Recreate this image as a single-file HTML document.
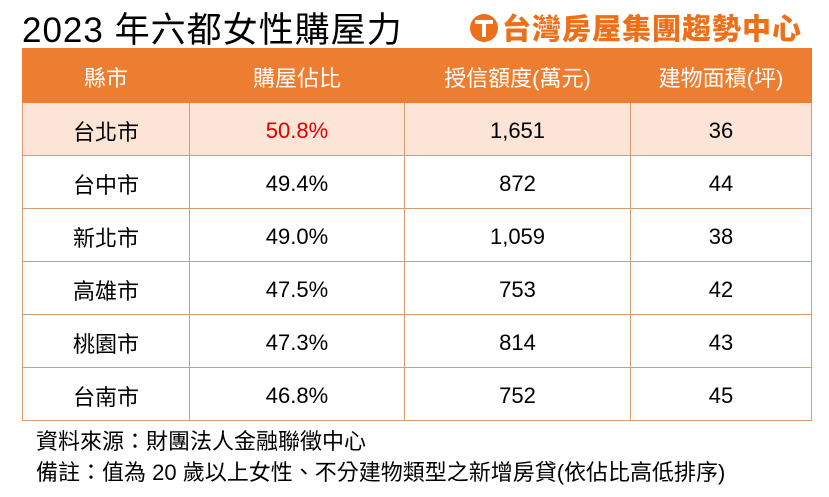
<!DOCTYPE html><html><head><meta charset="utf-8"><style>
body{margin:0;width:829px;height:497px;background:#fff;font-family:"Liberation Sans","Noto Sans CJK TC",sans-serif;position:relative;overflow:hidden}
.t{position:absolute;left:22px;top:2px;font-size:35px;color:#000;letter-spacing:1px}
.logo{position:absolute;left:470px;top:6px;font-size:29px;font-weight:900;color:#EE6F1A;letter-spacing:1px;white-space:nowrap}
.logo .c{display:inline-block;width:28px;height:28px;border-radius:50%;background:#EE6F1A;vertical-align:-3px;margin-right:4px;position:relative}
.logo .c:after{content:"";position:absolute;left:5px;top:6px;width:18px;height:4px;background:#fff}
.logo .c:before{content:"";position:absolute;left:12px;top:6px;width:4px;height:17px;background:#fff}
table{position:absolute;left:22px;top:48px;border-collapse:collapse;width:790px}
td,th{border:1px solid #D69B70;text-align:center;font-size:22px;height:49px;padding:3px 0 0 0;box-sizing:content-box}
th{background:#ED7D31;color:#fff;font-weight:normal;height:50px;border-color:#ED7D31}
tr.p td{background:#FCE4D6}
.n{position:absolute;left:36px;font-size:22px;color:#000}
</style></head><body>
<div class="t">2023 年六都女性購屋力</div>
<div class="logo"><span class="c"></span>台灣房屋集團趨勢中心</div>
<table>
<tr><th style="width:166px">縣市</th><th style="width:214px">購屋佔比</th><th style="width:225px">授信額度(萬元)</th><th>建物面積(坪)</th></tr>
<tr class="p"><td>台北市</td><td style="color:#E00000">50.8%</td><td>1,651</td><td>36</td></tr>
<tr><td>台中市</td><td>49.4%</td><td>872</td><td>44</td></tr>
<tr><td>新北市</td><td>49.0%</td><td>1,059</td><td>38</td></tr>
<tr><td>高雄市</td><td>47.5%</td><td>753</td><td>42</td></tr>
<tr><td>桃園市</td><td>47.3%</td><td>814</td><td>43</td></tr>
<tr><td>台南市</td><td>46.8%</td><td>752</td><td>45</td></tr>
</table>
<div class="n" style="top:424px">資料來源：財團法人金融聯徵中心</div>
<div class="n" style="top:455px">備註：值為 20 歲以上女性、不分建物類型之新增房貸(依佔比高低排序)</div>
</body></html>
